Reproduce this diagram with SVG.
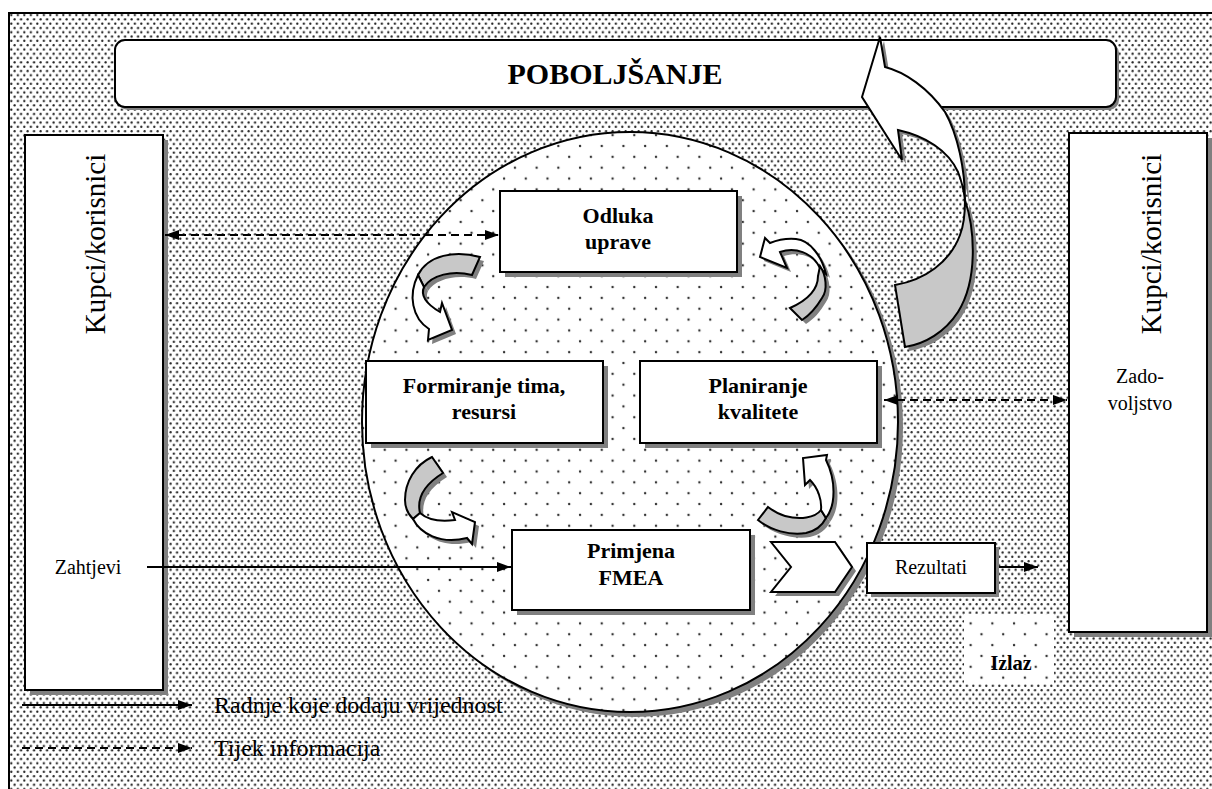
<svg xmlns="http://www.w3.org/2000/svg" width="1212" height="789" viewBox="0 0 1212 789">
<defs>
<pattern id="bg" width="6.5" height="8.6" patternUnits="userSpaceOnUse">
<rect width="6.5" height="8.6" fill="#fff"/>
<circle cx="1.6" cy="2.1" r="1.15" fill="#222"/>
<circle cx="4.85" cy="6.4" r="1.15" fill="#222"/>
</pattern>
<pattern id="sp" width="21.7" height="21.7" patternUnits="userSpaceOnUse">
<rect width="21.7" height="21.7" fill="#fff"/>
<circle cx="5" cy="5" r="1.2" fill="#333"/>
<circle cx="15.85" cy="15.85" r="1.2" fill="#333"/>
</pattern>
<marker id="ah" viewBox="0 0 14 10" refX="14" refY="5" markerWidth="14" markerHeight="10" markerUnits="userSpaceOnUse" orient="auto-start-reverse">
<path d="M0,0 L14,5 L0,10 Z" fill="#000"/>
</marker>
</defs>
<style>
.box{fill:#fff;stroke:#000;stroke-width:2}
.sh{fill:#808080;stroke:none}
.t{font-family:"Liberation Serif","Times New Roman",Times,"DejaVu Serif",serif;fill:#000}
.b{font-weight:bold}
.ln{stroke:#000;stroke-width:2;fill:none}
.dash{stroke-dasharray:8 5}
.wa{fill:#fff;stroke:#000;stroke-width:2;stroke-linejoin:miter}
.ga{fill:#c8c8c8;stroke:#000;stroke-width:2;stroke-linejoin:miter}
</style>

<rect x="9" y="13" width="1210" height="790" fill="url(#bg)" stroke="#000" stroke-width="2"/>

<g id="poboljsanje">
<rect x="118" y="43" width="1001" height="67" rx="10" class="sh"/>
<rect x="115" y="40" width="1001" height="67" rx="10" class="box"/>
<text x="615" y="84" text-anchor="middle" class="t b" font-size="30">POBOLJŠANJE</text>
</g>

<g id="kupci-left">
<rect x="30" y="140" width="138" height="555" class="sh"/>
<rect x="25" y="135" width="138" height="555" class="box"/>
<text transform="translate(105,244) rotate(-90)" text-anchor="middle" class="t" font-size="29">Kupci/korisnici</text>
<text x="88" y="574" text-anchor="middle" class="t" font-size="20">Zahtjevi</text>
</g>

<g id="kupci-right">
<rect x="1074" y="138" width="138" height="499" class="sh"/>
<rect x="1069" y="133" width="138" height="499" class="box"/>
<text transform="translate(1161,244) rotate(-90)" text-anchor="middle" class="t" font-size="29">Kupci/korisnici</text>
<text x="1140" y="383" text-anchor="middle" class="t" font-size="20">Zado-</text>
<text x="1140" y="410" text-anchor="middle" class="t" font-size="20">voljstvo</text>
</g>

<g id="process-circle">
<ellipse cx="635" cy="427" rx="268" ry="290" class="sh"/>
<ellipse cx="630" cy="422" rx="268" ry="290" fill="url(#sp)" stroke="#000" stroke-width="2"/>
</g>

<g id="izlaz-area">
<rect x="964" y="614" width="90" height="70" fill="url(#sp)"/>
</g>

<g id="connectors">
<line x1="165" y1="235" x2="499" y2="235" class="ln dash" marker-start="url(#ah)" marker-end="url(#ah)"/>
<line x1="884" y1="400" x2="1067" y2="400" class="ln dash" marker-start="url(#ah)" marker-end="url(#ah)"/>
<line x1="147" y1="567" x2="511" y2="567" class="ln" marker-end="url(#ah)"/>
<line x1="996" y1="567" x2="1038" y2="567" class="ln" marker-end="url(#ah)"/>
<line x1="22" y1="705" x2="192" y2="705" class="ln" marker-end="url(#ah)"/>
<line x1="22" y1="748" x2="192" y2="748" class="ln dash" marker-end="url(#ah)"/>
</g>

<g id="odluka">
<rect x="505" y="196" width="237" height="81" class="sh"/>
<rect x="500" y="191" width="237" height="81" class="box"/>
<text x="618" y="223" text-anchor="middle" class="t b" font-size="22">Odluka</text>
<text x="618" y="249" text-anchor="middle" class="t b" font-size="22">uprave</text>
</g>

<g id="formiranje">
<rect x="371" y="366" width="237" height="82" class="sh"/>
<rect x="366" y="361" width="237" height="82" class="box"/>
<text x="484" y="393" text-anchor="middle" class="t b" font-size="22">Formiranje tima,</text>
<text x="484" y="419" text-anchor="middle" class="t b" font-size="22">resursi</text>
</g>

<g id="planiranje">
<rect x="645" y="366" width="237" height="82" class="sh"/>
<rect x="640" y="361" width="237" height="82" class="box"/>
<text x="758" y="393" text-anchor="middle" class="t b" font-size="22">Planiranje</text>
<text x="758" y="419" text-anchor="middle" class="t b" font-size="22">kvalitete</text>
</g>

<g id="primjena">
<rect x="517" y="535" width="238" height="80" class="sh"/>
<rect x="512" y="530" width="238" height="80" class="box"/>
<text x="631" y="558" text-anchor="middle" class="t b" font-size="22">Primjena</text>
<text x="631" y="585" text-anchor="middle" class="t b" font-size="22">FMEA</text>
</g>

<g id="chevron">
<path d="M775,546 L839,546 L856,571 L839,596 L775,596 L795,571 Z" class="sh"/>
<path d="M771,542 L835,542 L852,567 L835,592 L771,592 L791,567 Z" class="box"/>
</g>

<g id="rezultati">
<rect x="871" y="547" width="128" height="50" class="sh"/>
<rect x="867" y="543" width="128" height="50" class="box"/>
<text x="931" y="574" text-anchor="middle" class="t" font-size="20">Rezultati</text>
</g>

<g id="izlaz">
<text x="1011" y="670" text-anchor="middle" class="t b" font-size="20">Izlaz</text>
</g>

<g id="cycle-arrows">
<g transform="translate(4,4)" class="sh">
<path d="M480,257 C455,250 428,255 418,275 L424,287 C432,275 452,270 472,275 Z"/>
<path d="M418,275 C408,295 412,318 429,329 L428,340 L452,330 L442,303 L440,312 C428,305 420,296 424,287 Z"/>
<path d="M765,238 L760,257 L787,268 L780,252 C795,247 812,252 820,268 L826,274 C822,257 810,240 796,239 C785,238 775,241 770,243 Z"/>
<path d="M820,266 C826,275 828,290 822,298 C816,308 810,315 802,320 L790,308 C808,300 818,290 818,276 Z"/>
<path d="M432,457 C415,465 405,482 405,500 C405,508 408,514 413,519 L420,513 C417,500 422,486 443,473 Z"/>
<path d="M413,519 C420,533 440,545 467,538 L472,544 L475,522 L452,512 L455,520 C440,522 428,520 420,513 Z"/>
<path d="M758,520 C770,530 790,536 806,533 C815,531 822,526 826,518 L821,510 C815,518 800,520 785,516 C778,514 772,510 768,507 Z"/>
<path d="M826,518 C836,505 836,480 826,460 L827,455 L803,458 L805,485 L810,480 C818,488 822,500 821,510 Z"/>
</g>
<path class="ga" d="M480,257 C455,250 428,255 418,275 L424,287 C432,275 452,270 472,275 Z"/>
<path class="wa" d="M418,275 C408,295 412,318 429,329 L428,340 L452,330 L442,303 L440,312 C428,305 420,296 424,287 Z"/>
<path class="wa" d="M765,238 L760,257 L787,268 L780,252 C795,247 812,252 820,268 L826,274 C822,257 810,240 796,239 C785,238 775,241 770,243 Z"/>
<path class="ga" d="M820,266 C826,275 828,290 822,298 C816,308 810,315 802,320 L790,308 C808,300 818,290 818,276 Z"/>
<path class="ga" d="M432,457 C415,465 405,482 405,500 C405,508 408,514 413,519 L420,513 C417,500 422,486 443,473 Z"/>
<path class="wa" d="M413,519 C420,533 440,545 467,538 L472,544 L475,522 L452,512 L455,520 C440,522 428,520 420,513 Z"/>
<path class="ga" d="M758,520 C770,530 790,536 806,533 C815,531 822,526 826,518 L821,510 C815,518 800,520 785,516 C778,514 772,510 768,507 Z"/>
<path class="wa" d="M826,518 C836,505 836,480 826,460 L827,455 L803,458 L805,485 L810,480 C818,488 822,500 821,510 Z"/>
</g>

<g id="improvement-arrow">
<g transform="translate(4,4)" class="sh">
<path d="M880,37 L862,97 L902,160 L898,130 C925,136 948,150 958,172 C962,182 964,192 965,200 C965,170 958,135 945,112 C928,88 905,72 885,67 Z"/>
<path d="M965,200 C975,230 978,280 958,312 C945,332 925,344 905,347 L895,285 C925,280 950,262 960,235 C964,225 965,212 965,200 Z"/>
</g>
<path class="wa" d="M880,37 L862,97 L902,160 L898,130 C925,136 948,150 958,172 C962,182 964,192 965,200 C965,170 958,135 945,112 C928,88 905,72 885,67 Z"/>
<path class="ga" d="M965,200 C975,230 978,280 958,312 C945,332 925,344 905,347 L895,285 C925,280 950,262 960,235 C964,225 965,212 965,200 Z"/>
</g>

<g id="legend">
<text x="214" y="713" class="t" font-size="24">Radnje koje dodaju vrijednost</text>
<text x="214" y="756" class="t" font-size="24">Tijek informacija</text>
</g>
</svg>
